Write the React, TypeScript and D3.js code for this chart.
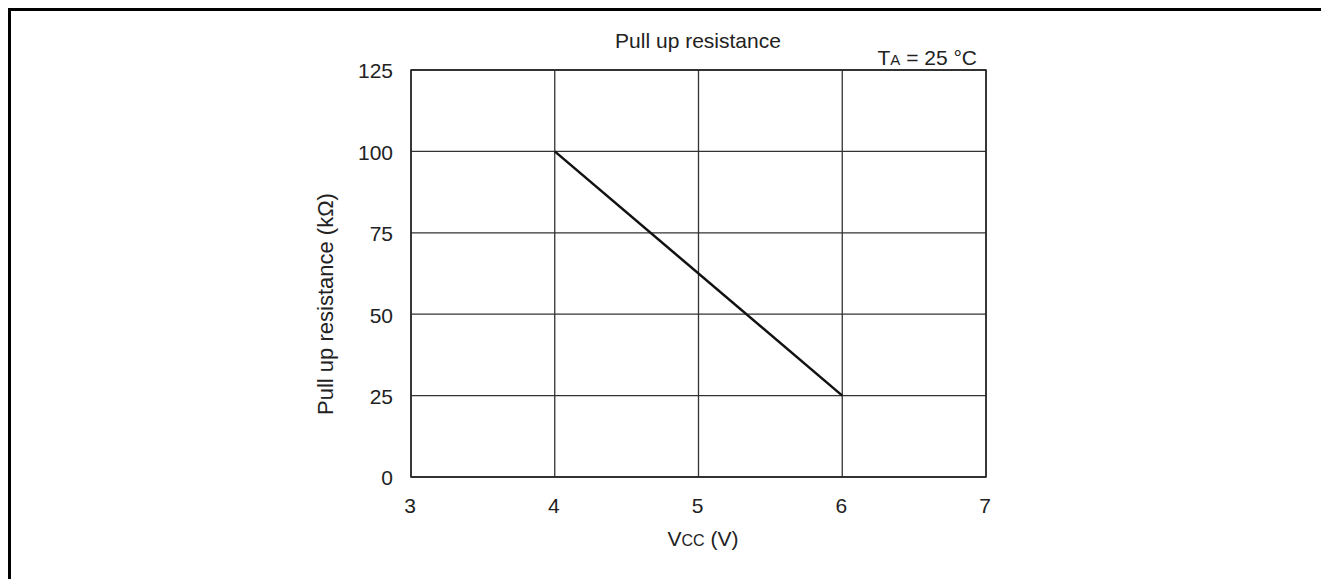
import React from "react";
import * as d3 from "d3";

const xTicks = [3, 4, 5, 6, 7];
const yTicks = [0, 25, 50, 75, 100, 125];
const vcc = [4, 6];
const resistance = [100, 25];

export default function App() {
  const W = 1321, H = 579;
  const x = d3.scaleLinear().domain([3, 7]).range([411, 986]);
  const y = d3.scaleLinear().domain([0, 125]).range([477, 70]);
  const pts = vcc.map((v, i) => [v, resistance[i]] as [number, number]);
  const line = d3.line<[number, number]>().x(d => x(d[0])).y(d => y(d[1]));
  const font = "Arial, 'Liberation Sans', sans-serif";
  return (
    <svg width={W} height={H} style={{ position: "absolute", left: 0, top: 0, background: "#fff" }} fontFamily={font}>
      <rect x={9.5} y={9.5} width={1400} height={700} fill="none" stroke="#000" strokeWidth={3} />
      {xTicks.map(t => (
        <line key={"gx" + t} x1={x(t)} x2={x(t)} y1={y(0)} y2={y(125)} stroke="#333" strokeWidth={1.3} />
      ))}
      {yTicks.map(t => (
        <line key={"gy" + t} x1={x(3)} x2={x(7)} y1={y(t)} y2={y(t)} stroke="#333" strokeWidth={1.3} />
      ))}
      <rect x={x(3)} y={y(125)} width={x(7) - x(3)} height={y(0) - y(125)} fill="none" stroke="#222" strokeWidth={1.5} />
      <path d={line(pts) || ""} fill="none" stroke="#111" strokeWidth={2.5} />
      {xTicks.map(t => (
        <text key={"tx" + t} x={x(t) - 1} y={513} textAnchor="middle" fontSize={21} fill="#222">{t}</text>
      ))}
      {yTicks.map(t => (
        <text key={"ty" + t} x={393} y={y(t) + 1} dy="0.35em" textAnchor="end" fontSize={21} fill="#222">{t}</text>
      ))}
      <text x={698} y={48} textAnchor="middle" fontSize={21} fill="#222">Pull up resistance</text>
      <text x={977} y={65} textAnchor="end" fontSize={21} fill="#222">
        T<tspan fontSize={15}>A</tspan> = 25 °C
      </text>
      <text x={703} y={546} textAnchor="middle" fontSize={21} fill="#222">
        V<tspan fontSize={16}>CC</tspan> (V)
      </text>
      <text transform="translate(333,304) rotate(-90)" textAnchor="middle" fontSize={22} fill="#222">
        Pull up resistance (kΩ)
      </text>
    </svg>
  );
}
